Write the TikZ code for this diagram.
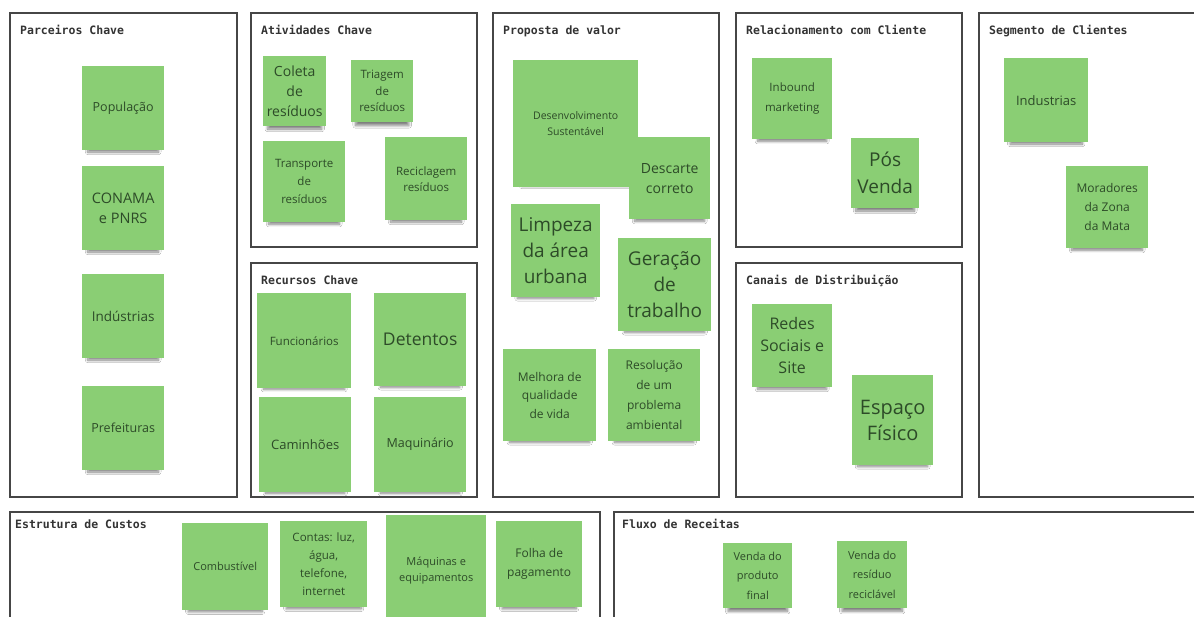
\documentclass[tikz,border=0pt]{standalone}
\usepackage{fontspec}
\setmainfont{Open Sans}
\newfontfamily\titlefont{DejaVu Sans Mono}
\usetikzlibrary{shadows.blur}

\definecolor{notegreen}{RGB}{138,206,116}
\definecolor{notetext}{RGB}{45,75,40}
\definecolor{framegray}{RGB}{70,70,70}

\newcommand{\fs}[2]{\fontsize{#1}{#2}\selectfont}

\begin{document}
\begin{tikzpicture}[
		x=1pt, y=-1pt,
		frame/.style = {draw=framegray, line width=1.2pt},
		title/.style = {anchor=base west, inner sep=0pt, text=black!80,
			font=\titlefont\bfseries\fs{11.5}{14}},
		note/.style = {anchor=north west, fill=notegreen, text=notetext,
			align=center, inner sep=0pt,
			blur shadow={shadow xshift=0pt, shadow yshift=-9pt, shadow scale=0.86,
				shadow opacity=50, shadow blur steps=10, shadow blur radius=3pt}},
		wh/.style 2 args = {minimum width=#1pt, minimum height=#2pt}
	]
	\fill[white] (0,0) rectangle (1194,617);
	\useasboundingbox (0,0) rectangle (1194,617);

	% Frames of the canvas.
	\draw[frame] (10,13) rectangle (237,497);
	\draw[frame] (251,13) rectangle (477,247);
	\draw[frame] (251,263) rectangle (477,497);
	\draw[frame] (493,13) rectangle (719,497);
	\draw[frame] (736,13) rectangle (962,247);
	\draw[frame] (736,263) rectangle (962,497);
	\draw[frame] (979,13) rectangle (1210,497);
	\draw[frame] (10,512) rectangle (600,640);
	\draw[frame] (614,512) rectangle (1210,640);

	\node[title] (tpar) at (20,35) {Parceiros Chave};
	\node[title] (tativ) at (261,35) {Atividades Chave};
	\node[title] (trec) at (261,285) {Recursos Chave};
	\node[title] (tprop) at (503,35) {Proposta de valor};
	\node[title] (trel) at (746,35) {Relacionamento com Cliente};
	\node[title] (tcan) at (746,285) {Canais de Distribuição};
	\node[title] (tseg) at (989,35) {Segmento de Clientes};
	\node[title] (tcus) at (15,528) {Estrutura de Custos};
	\node[title] (tflu) at (622,528) {Fluxo de Receitas};

	% Parceiros.
	\node[note, wh={82}{84}, font=\fs{12.5}{16}] (pop) at (82,66) {População};
	\node[note, wh={82}{84}, font=\fs{14.5}{20}] (conama) at (82,166) {CONAMA\\e PNRS};
	\node[note, wh={82}{84}, font=\fs{13.5}{17}] (ind) at (82,274) {Indústrias};
	\node[note, wh={82}{84}, font=\fs{12.5}{16}] (pref) at (82,386) {Prefeituras};

	% Atividades.
	\node[note, wh={63}{70}, font=\fs{14}{20}] (coleta) at (263,56) {Coleta\\de\\resíduos};
	\node[note, wh={62}{62}, font=\fs{11.5}{16.5}] (triagem) at (351,60) {Triagem\\de\\resíduos};
	\node[note, wh={82}{81}, font=\fs{11.5}{18}] (transp) at (263,141) {Transporte\\de\\resíduos};
	\node[note, wh={82}{83}, font=\fs{11.5}{16}] (recicl) at (385,137) {Reciclagem\\resíduos};

	% Recursos.
	\node[note, wh={94}{95}, font=\fs{11.5}{14}] (func) at (257,293) {Funcionários};
	\node[note, wh={92}{93}, font=\fs{17.5}{20}] (det) at (374,293) {Detentos};
	\node[note, wh={92}{95}, font=\fs{13}{16}] (cam) at (259,397) {Caminhões};
	\node[note, wh={92}{95}, font=\fs{12.5}{16}] (maq) at (374,397) {Maquinário};

	% Proposta.
	\node[note, wh={125}{127}, font=\fs{10.5}{16}] (desenv) at (513,60) {Desenvolvimento\\Sustentável};
	\node[note, wh={81}{82}, font=\fs{14}{20}] (descarte) at (629,137) {Descarte\\correto};
	\node[note, wh={89}{93}, font=\fs{19}{26}] (limpeza) at (511,204) {Limpeza\\da área\\urbana};
	\node[note, wh={93}{93}, font=\fs{19}{26}] (geracao) at (618,238) {Geração\\de\\trabalho};
	\node[note, wh={93}{92}, font=\fs{12}{18.5}] (melhora) at (503,349) {Melhora de\\qualidade\\de vida};
	\node[note, wh={92}{92}, font=\fs{12}{20}] (resol) at (608,349) {Resolução\\de um\\problema\\ambiental};

	% Relacionamento.
	\node[note, wh={80}{81}, font=\fs{11.5}{20}] (inbound) at (752,58) {Inbound\\marketing};
	\node[note, wh={68}{70}, font=\fs{19}{27}] (pos) at (851,138) {Pós\\Venda};

	% Canais.
	\node[note, wh={80}{83}, font=\fs{16}{22}] (redes) at (752,304) {Redes\\Sociais e\\Site};
	\node[note, wh={81}{90}, font=\fs{20}{26}] (espaco) at (852,375) {Espaço\\Físico};

	% Segmento.
	\node[note, wh={84}{84}, font=\fs{13}{16}] (indseg) at (1004,58) {Industrias};
	\node[note, wh={82}{82}, font=\fs{12}{19}] (morad) at (1066,166) {Moradores\\da Zona\\da Mata};

	% Custos.
	\node[note, wh={86}{87}, font=\fs{11}{14}] (comb) at (182,523) {Combustível};
	\node[note, wh={87}{86}, font=\fs{11.5}{18}] (contas) at (280,521) {Contas: luz,\\água,\\telefone,\\internet};
	\node[note, wh={100}{110}, font=\fs{11}{16}] (maqeq) at (386,515) {Máquinas e\\equipamentos};
	\node[note, wh={86}{86}, font=\fs{12}{19}] (folha) at (496,521) {Folha de\\pagamento};

	% Receitas.
	\node[note, wh={69}{65}, font=\fs{11}{19.5}] (vprod) at (723,543) {Venda do\\produto\\final};
	\node[note, wh={70}{67}, font=\fs{11}{19.5}] (vres) at (837,541) {Venda do\\resíduo\\reciclável};
\end{tikzpicture}
\end{document}
